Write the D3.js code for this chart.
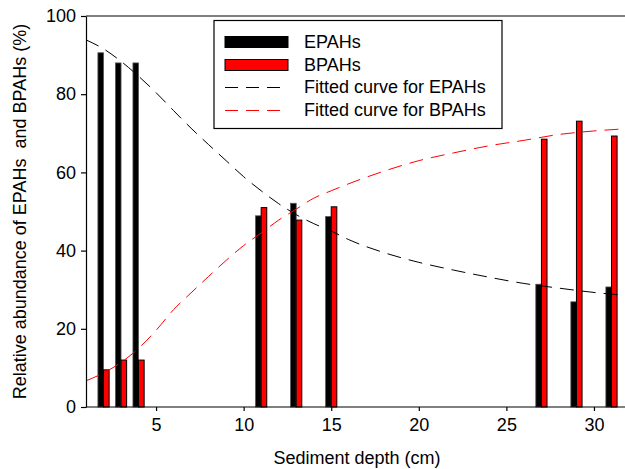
<!DOCTYPE html>
<html>
<head>
<meta charset="utf-8">
<script src="https://cdn.jsdelivr.net/npm/d3@7"></script>
<style>
    body { margin: 0; background: #fff; }
    svg { font-family: "Liberation Sans", Arial, sans-serif; }
</style>
</head>
<body>
<div id="chart"></div>
<script>

var depth = [2, 3, 4, 11, 13, 15, 27, 29, 31];
var epahs = [90.6, 88.0, 88.0, 48.9, 52.1, 48.7, 31.4, 26.9, 30.7];
var bpahs = [9.5, 12.0, 12.0, 51.0, 47.8, 51.2, 68.5, 73.1, 69.3];

// fitted curves, points
var fitDepth = [1, 2, 3, 4, 5, 6, 7, 8, 9, 10, 11, 12, 13, 14, 15, 16, 18, 20, 22, 24, 26, 28, 30, 32];
var fitEpahs = [93.9, 91.6, 88.4, 84.6, 80.4, 75.8, 71.3, 67.1, 63.0, 58.9, 55.3, 52.0, 49.2, 46.9, 45.0, 42.8, 39.5, 37.0, 35.0, 33.2, 31.6, 30.4, 29.3, 28.5];
var fitBpahs = [6.7, 8.7, 11.4, 15.0, 19.6, 24.9, 29.2, 33.4, 37.5, 41.3, 44.5, 47.8, 50.6, 53.4, 55.3, 57.1, 60.3, 63.0, 65.0, 66.8, 68.2, 69.7, 70.6, 71.2];

var xTicks = [5, 10, 15, 20, 25, 30];
var yTicks = [0, 20, 40, 60, 80, 100];

var legendItems = [
    { label: "EPAHs", type: "bar", color: "#000000" },
    { label: "BPAHs", type: "bar", color: "#ff0000" },
    { label: "Fitted curve for EPAHs", type: "line", color: "#000000" },
    { label: "Fitted curve for BPAHs", type: "line", color: "#ff0000" }
];

var width = 625, height = 469;
var margin = { top: 16, bottom: 62, left: 86 };

var svg = d3.select("#chart")
    .append("svg")
    .attr("width", width)
    .attr("height", height);

var x = d3.scaleLinear()
    .domain([1, 32])
    .range([margin.left, 629]);

var y = d3.scaleLinear()
    .domain([0, 100])
    .range([height - margin.bottom, margin.top]);

var barW = 0.32;

svg.append("clipPath")
    .attr("id", "plot")
    .append("rect")
    .attr("x", margin.left)
    .attr("y", margin.top)
    .attr("width", 629 - margin.left)
    .attr("height", y(0) - margin.top);

// bars
var bars = svg.append("g");

bars.selectAll("rect.e")
    .data(depth)
    .enter().append("rect")
    .attr("class", "e")
    .attr("x", function (d) { return x(d - barW); })
    .attr("width", function (d) { return x(d) - x(d - barW); })
    .attr("y", function (d, i) { return y(epahs[i]); })
    .attr("height", function (d, i) { return y(0) - y(epahs[i]); })
    .attr("fill", "#000")
    .attr("stroke", "#555")
    .attr("stroke-width", 0.8);

bars.selectAll("rect.b")
    .data(depth)
    .enter().append("rect")
    .attr("class", "b")
    .attr("x", function (d) { return x(d); })
    .attr("width", function (d) { return x(d + barW) - x(d); })
    .attr("y", function (d, i) { return y(bpahs[i]); })
    .attr("height", function (d, i) { return y(0) - y(bpahs[i]); })
    .attr("fill", "#ff0000")
    .attr("stroke", "#000")
    .attr("stroke-width", 1);

// fitted curves
var line = d3.line()
    .x(function (d) { return x(d[0]); })
    .y(function (d) { return y(d[1]); })
    .curve(d3.curveMonotoneX);

var curves = svg.append("g").attr("clip-path", "url(#plot)");

curves.append("path")
    .attr("d", line(d3.zip(fitDepth, fitEpahs)))
    .attr("fill", "none")
    .attr("stroke", "#000")
    .attr("stroke-width", 1)
    .attr("stroke-dasharray", "14,8");

curves.append("path")
    .attr("d", line(d3.zip(fitDepth, fitBpahs)))
    .attr("fill", "none")
    .attr("stroke", "#ff0000")
    .attr("stroke-width", 1)
    .attr("stroke-dasharray", "14,8");

// axes
var xAxis = svg.append("g")
    .attr("transform", "translate(0," + y(0) + ")")
    .call(d3.axisBottom(x).tickValues(xTicks).tickSize(4).tickPadding(7).tickSizeOuter(0));

var yAxis = svg.append("g")
    .attr("transform", "translate(" + margin.left + ",0)")
    .call(d3.axisLeft(y).tickValues(yTicks).tickSize(5).tickPadding(5).tickSizeOuter(0));

[xAxis, yAxis].forEach(function (a) {
    a.select(".domain").attr("stroke", "#000").attr("stroke-width", 1.2);
    a.selectAll(".tick line").attr("stroke", "#000").attr("stroke-width", 1.2);
    a.selectAll(".tick text")
        .attr("fill", "#000")
        .attr("font-size", "18px")
        .attr("font-family", "Liberation Sans, Arial, sans-serif");
});

xAxis.select(".domain").attr("d", "M" + margin.left + ",0H" + width);

// top frame line
svg.append("line")
    .attr("x1", margin.left)
    .attr("x2", width)
    .attr("y1", margin.top)
    .attr("y2", margin.top)
    .attr("stroke", "#000")
    .attr("stroke-width", 1.2);

// axis titles
svg.append("text")
    .attr("x", 357)
    .attr("y", 464)
    .attr("text-anchor", "middle")
    .attr("font-size", "18px")
    .text("Sediment depth (cm)");

svg.append("text")
    .attr("transform", "translate(26," + ((y(0) + y(100)) / 2) + ") rotate(-90)")
    .attr("text-anchor", "middle")
    .attr("font-size", "18px")
    .style("white-space", "pre")
    .text("Relative abundance of EPAHs  and BPAHs (%)");

// legend
var legend = svg.append("g");

legend.append("rect")
    .attr("x", 214)
    .attr("y", 20.5)
    .attr("width", 288)
    .attr("height", 108)
    .attr("fill", "#fff")
    .attr("stroke", "#000")
    .attr("stroke-width", 1.2);

var items = legend.selectAll("g.item")
    .data(legendItems)
    .enter().append("g")
    .attr("class", "item")
    .attr("transform", function (d, i) { return "translate(225," + Math.round(42 + i * 22.5) + ")"; });

items.filter(function (d) { return d.type === "bar"; })
    .append("rect")
    .attr("x", 0)
    .attr("y", -5.5)
    .attr("width", 63)
    .attr("height", 11)
    .attr("fill", function (d) { return d.color; })
    .attr("stroke", "#000")
    .attr("stroke-width", 1);

items.filter(function (d) { return d.type === "line"; })
    .append("line")
    .attr("x1", 0)
    .attr("x2", 63)
    .attr("y1", 0.5)
    .attr("y2", 0.5)
    .style("stroke", function (d) { return d.color; })
    .attr("stroke-width", 1.2)
    .attr("stroke-dasharray", "13,8");

items.append("text")
    .attr("x", 79)
    .attr("y", 6)
    .attr("font-size", "18px")
    .text(function (d) { return d.label; });

</script>
</body>
</html>
